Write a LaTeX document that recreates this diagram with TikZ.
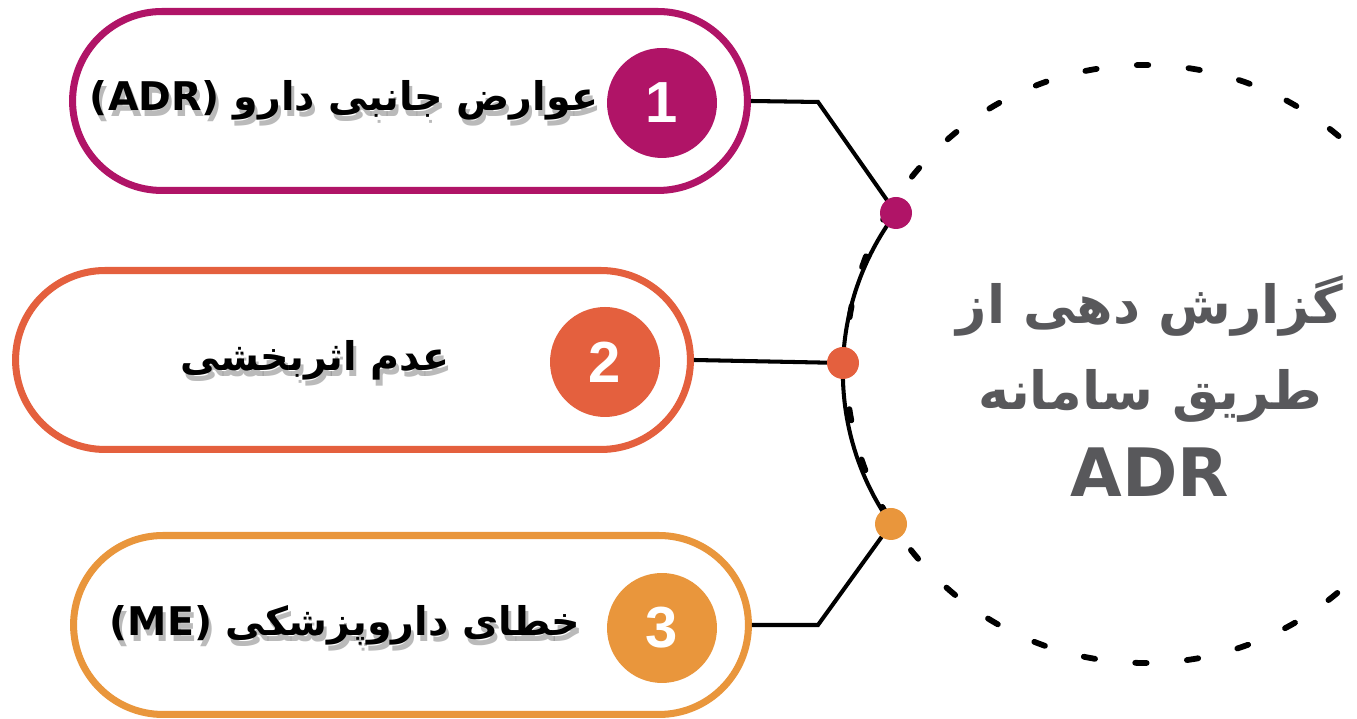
\documentclass[tikz,border=0pt]{standalone}
\usepackage{fontspec}
\setmainfont{DejaVu Sans}
\newfontfamily\arabicfont[Script=Arabic]{DejaVu Sans}
\newfontfamily\numfont{Liberation Sans}
\TeXXeTstate=1
\definecolor{plum}{HTML}{B01467}
\definecolor{coral}{HTML}{E4603E}
\definecolor{amber}{HTML}{E9963C}
\definecolor{slate}{HTML}{58585B}

\begin{document}
\begin{tikzpicture}[x=0.02cm, y=0.02cm, line cap=round,
    pill/.style={draw=#1, line width=4pt, fill=white, rounded corners=1.79cm,
        minimum width=13.5cm, minimum height=3.58cm, inner sep=0pt},
    numdisc/.style={circle, fill=#1, minimum size=2.2cm, inner sep=0pt, text=white,
        font=\numfont\bfseries\fontsize{33}{33}\selectfont},
    joint/.style={circle, fill=#1, minimum size=0.64cm, inner sep=0pt},
    wire/.style={line width=2.3pt, black},
    itemtext/.style={text=black, font=\arabicfont\bfseries\fontsize{22.5}{27}\selectfont},
    itemshade/.style={itemtext, text=black!45, opacity=0.6}]

    \useasboundingbox (0,0) rectangle (1357,719);

    % ================= 右侧：虚线圆与中心标题 =================
    \draw[line width=3.3pt, dash pattern=on 6.5pt off 23pt] (1145,355) circle (299);
    \node[text=slate, align=center, font=\arabicfont\bfseries\fontsize{30}{49}\selectfont]
        (title) at (1150,333) {\beginR گزارش دهی از\endR\\ \beginR طریق سامانه\endR\\
        {\fontsize{38}{49}\selectfont ADR}};

    % ================= 左侧：三个条目 =================
    \node[pill=plum]  (item1) at (410,618) {};
    \node[pill=coral] (item2) at (353,359) {};
    \node[pill=amber] (item3) at (411,94)  {};

    % 文字阴影 (灰色偏移副本)
    \node[itemshade] at (347,613) {\beginR عوارض جانبی دارو \beginL(ADR)\endL\endR};
    \node[itemshade] at (318,353) {\beginR عدم اثربخشی\endR};
    \node[itemshade] at (348,88)  {\beginR خطای داروپزشکی \beginL(ME)\endL\endR};

    \node[itemtext] (text1) at (344,619) {\beginR عوارض جانبی دارو \beginL(ADR)\endL\endR};
    \node[itemtext] (text2) at (315,359) {\beginR عدم اثربخشی\endR};
    \node[itemtext] (text3) at (345,94)  {\beginR خطای داروپزشکی \beginL(ME)\endL\endR};

    % 编号圆
    \node[numdisc=plum]  (num1) at (662,616) {1};
    \node[numdisc=coral] (num2) at (605,357) {2};
    \node[numdisc=amber] (num3) at (662,91)  {3};

    % ================= 连接线与弧线 =================
    \coordinate (bend1) at (818,617);
    \coordinate (bend3) at (818,94);
    \coordinate (pin1) at (896,506);
    \coordinate (pin2) at (843,356);
    \coordinate (pin3) at (891,195);

    \draw[wire] (pin1) arc[start angle=143, end angle=215.1, radius=264];
    \draw[wire, line cap=butt] (item1.east) -- (bend1) -- (pin1);
    \draw[wire, line cap=butt] (item2.east) -- (pin2);
    \draw[wire, line cap=butt] (item3.east) -- (bend3) -- (pin3);

    % 节点圆点
    \node[joint=plum]  (dot1) at (pin1) {};
    \node[joint=coral] (dot2) at (pin2) {};
    \node[joint=amber] (dot3) at (pin3) {};

\end{tikzpicture}
\end{document}
